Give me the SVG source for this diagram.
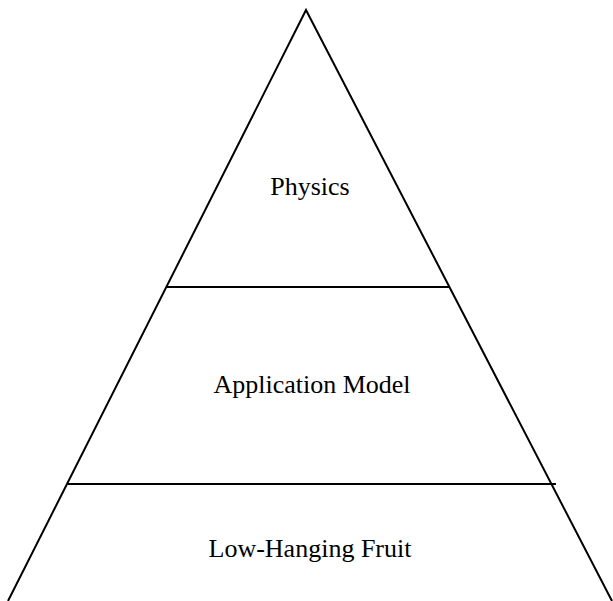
<svg xmlns="http://www.w3.org/2000/svg" width="613" height="601" viewBox="0 0 613 601">
<style>
.ln{stroke:#000;stroke-width:2;fill:none}
.t{font-family:"Liberation Serif","DejaVu Serif",serif;font-size:26px;fill:#000;text-anchor:middle}
</style>
<rect width="613" height="601" fill="#fff"/>
<g id="connectors">
<polyline class="ln" points="8,601 306,10 612,601"/>
</g>
<g id="physics">
<text class="t" x="310" y="195">Physics</text>
</g>
<g id="application-model">
<line class="ln" x1="166" y1="287" x2="450" y2="287"/>
<text class="t" x="312" y="393">Application Model</text>
</g>
<g id="low-hanging-fruit">
<line class="ln" x1="68" y1="484" x2="556" y2="484"/>
<text class="t" x="310" y="557">Low-Hanging Fruit</text>
</g>
</svg>
